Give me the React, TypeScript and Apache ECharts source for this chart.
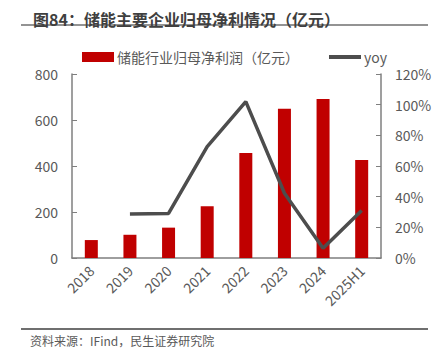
import React, { useEffect, useRef } from "react";
import * as echarts from "echarts";

const categories = ["2018", "2019", "2020", "2021", "2022", "2023", "2024", "2025H1"];
const profitValues = [78, 101, 132, 225, 457, 649, 691, 426];
const yoyValues: (number | null)[] = [null, 28.7, 29.1, 72.6, 102, 42.2, 6.3, 30.9];
const leftTicks = [0, 200, 400, 600, 800];
const rightTicks = [0, 20, 40, 60, 80, 100, 120];

const titleText = "图84：储能主要企业归母净利情况（亿元）";
const sourceText = "资料来源：IFind，民生证券研究院";
const barName = "储能行业归母净利润（亿元）";
const lineName = "yoy";

const FONT = "'Noto Sans CJK SC', 'Open Sans', sans-serif";

export default function App() {
  const ref = useRef<HTMLDivElement>(null);
  useEffect(() => {
    if (!ref.current) return;
    const chart = echarts.init(ref.current, undefined, { renderer: "svg" });
    chart.setOption({
      animation: false,
      backgroundColor: "#ffffff",
      textStyle: { fontFamily: FONT },
      title: {
        text: titleText,
        left: 28,
        top: 6,
        textStyle: { fontSize: 16, fontWeight: "bold", color: "#3f3f3f", fontFamily: FONT },
      },
      graphic: [
        { type: "line", shape: { x1: 21, y1: 25, x2: 428, y2: 25 }, style: { stroke: "#6f6f6f", lineWidth: 1.5 } },
        { type: "line", shape: { x1: 21, y1: 329, x2: 428, y2: 329 }, style: { stroke: "#6f6f6f", lineWidth: 2 } },
        {
          type: "text",
          left: 30,
          top: 334,
          style: { text: sourceText, fontSize: 12, fill: "#595959", fontFamily: FONT },
        },
      ],
      legend: {
        left: 77,
        top: 45,
        itemGap: 30,
        itemWidth: 32,
        itemHeight: 10,
        textStyle: { fontSize: 14, color: "#595959", fontFamily: FONT, padding: [0, 0, 0, -2] },
        data: [
          { name: barName, icon: "rect" },
          { name: lineName, icon: "path://M0,0h32v4h-32z" },
        ],
      },
      grid: { left: 72, right: 57, top: 74, bottom: 99, containLabel: false },
      xAxis: {
        type: "category",
        data: categories,
        axisLine: { lineStyle: { color: "#7f7f7f", width: 1.5 } },
        axisTick: { show: false },
        axisLabel: { rotate: 45, fontSize: 14, color: "#595959", margin: 10, interval: 0 },
      },
      yAxis: [
        {
          type: "value",
          min: 0,
          max: 800,
          interval: 200,
          splitLine: { show: false },
          axisLine: { show: true, lineStyle: { color: "#7f7f7f", width: 1.5 } },
          axisTick: { show: true, inside: true, length: 5, lineStyle: { color: "#7f7f7f" } },
          axisLabel: {
            fontSize: 14,
            color: "#595959",
            margin: 14,
            formatter: (v: number) => (leftTicks.includes(v) ? String(v) : ""),
          },
        },
        {
          type: "value",
          min: 0,
          max: 120,
          interval: 20,
          splitLine: { show: false },
          axisLine: { show: true, lineStyle: { color: "#7f7f7f", width: 1.5 } },
          axisTick: { show: true, inside: true, length: 5, lineStyle: { color: "#7f7f7f" } },
          axisLabel: {
            fontSize: 14,
            color: "#595959",
            margin: 14,
            formatter: (v: number) => (rightTicks.includes(v) ? v + "%" : ""),
          },
        },
      ],
      series: [
        {
          name: barName,
          type: "bar",
          data: profitValues,
          barWidth: 13,
          itemStyle: { color: "#C00000" },
        },
        {
          name: lineName,
          type: "line",
          yAxisIndex: 1,
          data: yoyValues,
          symbol: "none",
          connectNulls: false,
          lineStyle: { color: "#4d4d4d", width: 3.5 },
          itemStyle: { color: "#4d4d4d" },
        },
      ],
    });
    return () => chart.dispose();
  }, []);
  return (
    <div
      ref={ref}
      style={{ position: "fixed", left: 0, top: 0, width: 438, height: 357 }}
    />
  );
}
